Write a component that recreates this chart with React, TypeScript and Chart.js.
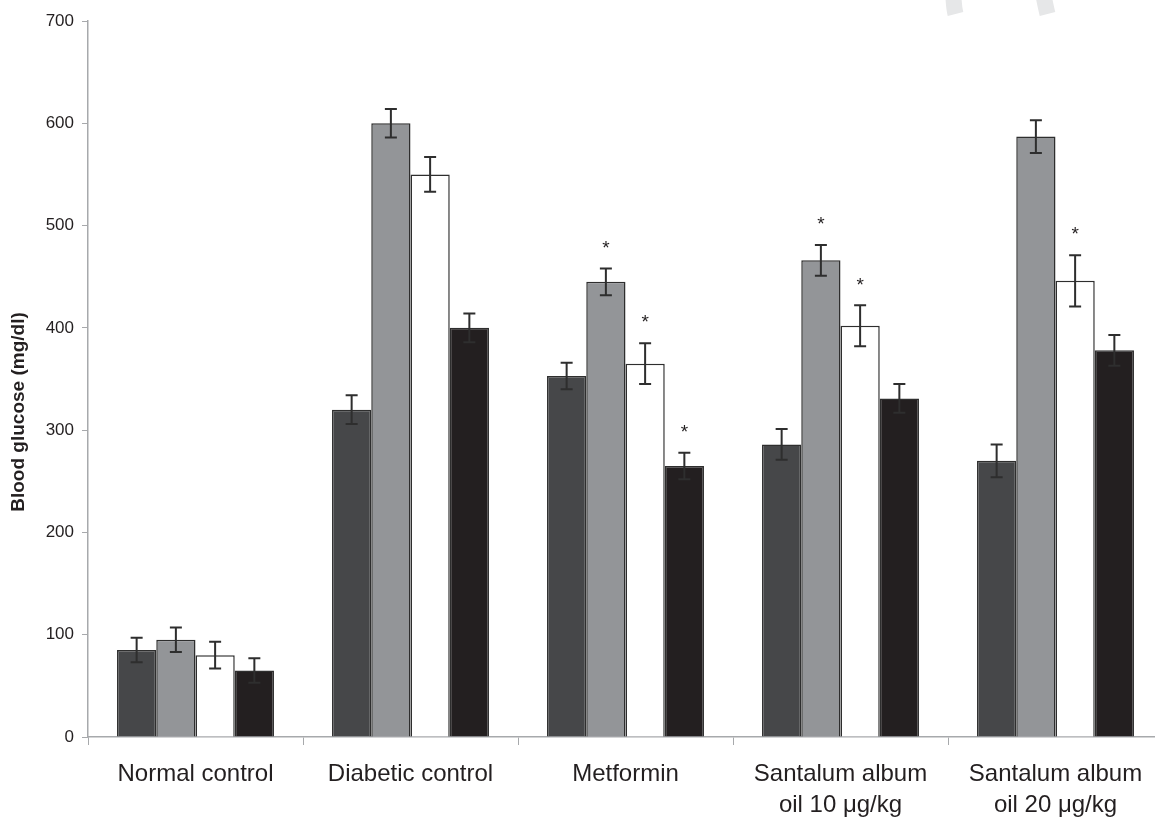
import React, { useEffect, useRef } from "react";
import { Chart, registerables } from "chart.js";

Chart.register(...registerables);

const categories: (string | string[])[] = [
  "Normal control",
  "Diabetic control",
  "Metformin",
  ["Santalum album", "oil 10 μg/kg"],
  ["Santalum album", "oil 20 μg/kg"],
];

const series1 = [85, 320, 353, 286, 270];
const series2 = [95, 600, 445, 466, 587];
const series3 = [80, 550, 365, 402, 446];
const series4 = [65, 400, 265, 331, 378];

const err1 = [12, 14, 13, 15, 16];
const err2 = [12, 14, 13, 15, 16];
const err3 = [13, 17, 20, 20, 25];
const err4 = [12, 14, 13, 14, 15];

const star1 = [false, false, false, false, false];
const star2 = [false, false, true, true, false];
const star3 = [false, false, true, true, true];
const star4 = [false, false, true, false, false];

const yTicks = [0, 100, 200, 300, 400, 500, 600, 700];
const yTitle = "Blood glucose (mg/dl)";

const FONT = "'Liberation Sans', Arial, Helvetica, sans-serif";
const TEXT = "#231f20";

export default function App() {
  const ref = useRef<HTMLCanvasElement | null>(null);

  useEffect(() => {
    if (!ref.current) return;
    const errs = [err1, err2, err3, err4];
    const stars = [star1, star2, star3, star4];

    const decorations = {
      id: "decorations",
      beforeDraw(chart: any) {
        const ctx = chart.ctx;
        ctx.save();
        ctx.strokeStyle = "#e6e7e8";
        ctx.lineWidth = 16;
        ctx.lineCap = "butt";
        ctx.beginPath();
        ctx.moveTo(953.5, -2);
        ctx.quadraticCurveTo(954, 8, 955.5, 14);
        ctx.stroke();
        ctx.beginPath();
        ctx.moveTo(1044, -2);
        ctx.quadraticCurveTo(1046, 8, 1047.5, 14);
        ctx.stroke();
        ctx.restore();
      },
      afterDraw(chart: any) {
        const ctx = chart.ctx;
        ctx.save();
        ctx.translate(19, 412);
        ctx.rotate(-Math.PI / 2);
        ctx.fillStyle = TEXT;
        ctx.font = `bold 19px ${FONT}`;
        ctx.textAlign = "center";
        ctx.textBaseline = "middle";
        ctx.fillText(yTitle, 0, 0);
        ctx.restore();
      },
    };

    const errorBars = {
      id: "errorBars",
      afterDatasetsDraw(chart: any) {
        const ctx = chart.ctx;
        const y = chart.scales.y;
        ctx.save();
        chart.data.datasets.forEach((ds: any, di: number) => {
          const meta = chart.getDatasetMeta(di);
          meta.data.forEach((el: any, i: number) => {
            const v = ds.data[i];
            const e = errs[di][i];
            const yt = y.getPixelForValue(v + e);
            const yb = y.getPixelForValue(v - e);
            const x = el.x;
            ctx.strokeStyle = "#2e2e2e";
            ctx.lineWidth = 2;
            ctx.beginPath();
            ctx.moveTo(x, yt);
            ctx.lineTo(x, yb);
            ctx.moveTo(x - 6, yt);
            ctx.lineTo(x + 6, yt);
            ctx.moveTo(x - 6, yb);
            ctx.lineTo(x + 6, yb);
            ctx.stroke();
            if (stars[di][i]) {
              ctx.fillStyle = TEXT;
              ctx.font = `19px ${FONT}`;
              ctx.textAlign = "center";
              ctx.textBaseline = "middle";
              ctx.fillText("*", x, yt - 20);
            }
          });
        });
        ctx.restore();
      },
    };

    const mk = (label: string, data: number[], color: string) => ({
      label,
      data,
      backgroundColor: color,
      borderColor: "#2e2e2e",
      borderWidth: 1.5,
      borderSkipped: "bottom" as const,
      categoryPercentage: 0.73,
      barPercentage: 1.0,
    });

    const chart = new Chart(ref.current, {
      type: "bar",
      data: {
        labels: categories,
        datasets: [
          mk("S1", series1, "#464749"),
          mk("S2", series2, "#939598"),
          mk("S3", series3, "#ffffff"),
          mk("S4", series4, "#231f20"),
        ],
      },
      options: {
        animation: false,
        responsive: false,
        maintainAspectRatio: false,
        layout: { padding: { left: 0, right: 17, top: 21, bottom: 0 } },
        plugins: {
          legend: { display: false },
          tooltip: { enabled: false },
        },
        scales: {
          x: {
            afterFit: (s: any) => {
              s.height = 83;
            },
            grid: {
              display: true,
              drawOnChartArea: false,
              drawTicks: true,
              tickLength: 8,
              color: "#a7a9ac",
              offset: true,
            },
            border: { color: "#a7a9ac", width: 1.5 },
            ticks: {
              color: TEXT,
              font: { family: FONT, size: 24, lineHeight: 1.3 },
              padding: 14,
              maxRotation: 0,
              autoSkip: false,
            },
          },
          y: {
            min: 0,
            max: 700,
            afterFit: (s: any) => {
              s.width = 88;
            },
            afterBuildTicks: (s: any) => {
              s.ticks = yTicks.map((v) => ({ value: v }));
            },
            grid: {
              display: true,
              drawOnChartArea: false,
              drawTicks: true,
              tickLength: 6,
              color: "#a7a9ac",
            },
            border: { color: "#a7a9ac", width: 1.5 },
            ticks: {
              color: TEXT,
              font: { family: FONT, size: 17 },
              padding: 8,
            },
          },
        },
      },
      plugins: [decorations, errorBars],
    });
    return () => chart.destroy();
  }, []);

  return (
    <div
      style={{
        position: "fixed",
        left: 0,
        top: 0,
        width: 1155,
        height: 820,
        overflow: "hidden",
        background: "#ffffff",
      }}
    >
      <canvas ref={ref} width={1180} height={820} style={{ width: 1180, height: 820, display: "block" }} />
    </div>
  );
}
